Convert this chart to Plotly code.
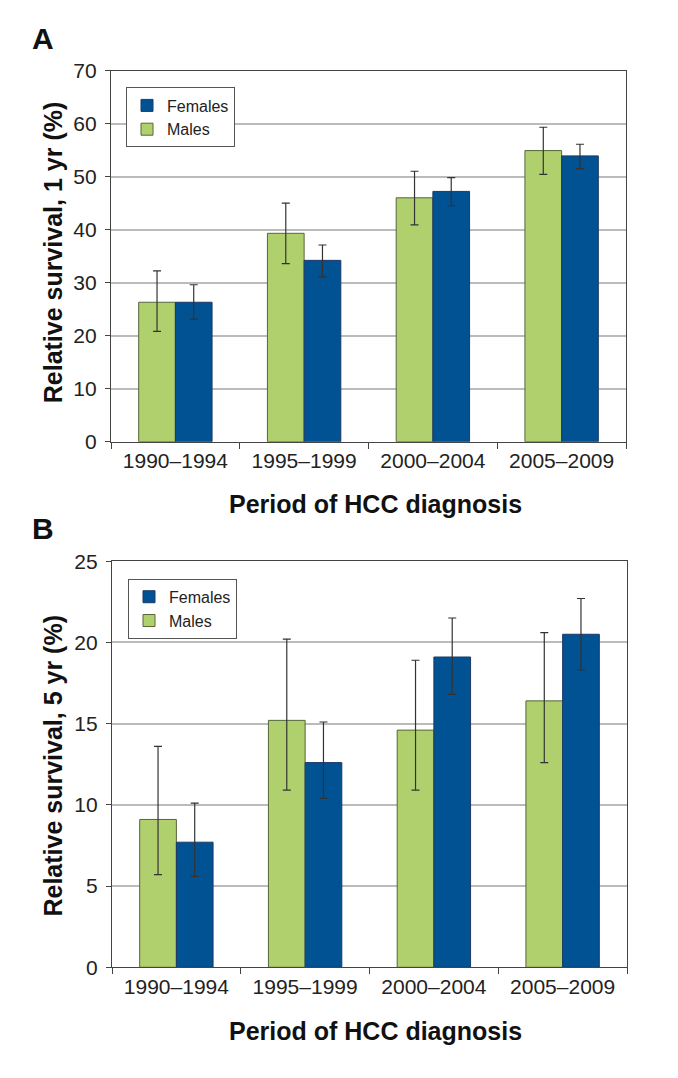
import plotly.graph_objects as go

periods = ["1990–1994", "1995–1999", "2000–2004", "2005–2009"]

# Panel A: 1-year relative survival (%)
a_males = [26.3, 39.3, 46.0, 54.9]
a_males_hi = [32.2, 45.0, 51.0, 59.3]
a_males_lo = [20.8, 33.6, 40.9, 50.4]
a_females = [26.3, 34.2, 47.2, 53.9]
a_females_hi = [29.6, 37.1, 49.8, 56.1]
a_females_lo = [23.1, 31.1, 44.5, 51.5]

# Panel B: 5-year relative survival (%)
b_males = [9.1, 15.2, 14.6, 16.4]
b_males_hi = [13.6, 20.2, 18.9, 20.6]
b_males_lo = [5.7, 10.9, 10.9, 12.6]
b_females = [7.7, 12.6, 19.1, 20.5]
b_females_hi = [10.1, 15.1, 21.5, 22.7]
b_females_lo = [5.6, 10.4, 16.8, 18.3]

GREEN = "#B0D06E"
BLUE = "#005293"
FONT = "Liberation Sans, Arial, sans-serif"
W, H = 678, 1078


def py(y):
    # target pixel row -> layout row (compensates observed vertical offset)
    return (y - 11.4) / 0.98


def err(vals, hi, lo):
    return dict(type="data", symmetric=False,
                array=[h - v for v, h in zip(vals, hi)],
                arrayminus=[v - l for v, l in zip(vals, lo)],
                color="#333333", thickness=1.2, width=4)


fig = go.Figure()

def add_pair(males, mhi, mlo, females, fhi, flo, xa, ya, leg):
    fig.add_trace(go.Bar(x=periods, y=males, name="Males", xaxis=xa, yaxis=ya,
                         marker=dict(color=GREEN, line=dict(color="#56663a", width=1)),
                         error_y=err(males, mhi, mlo), legend=leg))
    fig.add_trace(go.Bar(x=periods, y=females, name="Females", xaxis=xa, yaxis=ya,
                         marker=dict(color=BLUE, line=dict(color="#1d3a66", width=1)),
                         error_y=err(females, fhi, flo), legend=leg))

add_pair(a_males, a_males_hi, a_males_lo, a_females, a_females_hi, a_females_lo,
         "x", "y", "legend")
add_pair(b_males, b_males_hi, b_males_lo, b_females, b_females_hi, b_females_lo,
         "x2", "y2", "legend2")

xdom_a = [111 / W, 626 / W]
xdom_b = [112 / W, 627 / W]
ydom_a = [1 - py(441.7) / H, 1 - py(70) / H]
ydom_b = [1 - py(968) / H, 1 - py(561.3) / H]

xcommon = dict(showline=True, linecolor="#444444", linewidth=1.2, mirror=True,
               ticks="outside", tickson="boundaries", ticklen=6, tickcolor="#444444",
               showgrid=False, tickfont=dict(size=21, color="#222222", family=FONT),
               fixedrange=True)
ycommon = dict(showline=True, linecolor="#444444", linewidth=1.2, mirror=True,
               ticks="outside", ticklen=5, tickcolor="#444444",
               showgrid=True, gridcolor="#BBBBBB", gridwidth=1.5,
               tickfont=dict(size=21, color="#222222", family=FONT),
               ticklabelstandoff=4,
               zeroline=False, fixedrange=True)

legcommon = dict(bgcolor="white", bordercolor="#555555", borderwidth=1,
                 font=dict(size=16, color="#222222", family=FONT),
                 traceorder="reversed", xanchor="left", yanchor="top",
                 itemwidth=30, tracegroupgap=0)

fig.update_layout(
    width=W, height=H,
    margin=dict(l=0, r=0, t=0, b=0),
    paper_bgcolor="white", plot_bgcolor="white",
    barmode="group", bargap=0.43, bargroupgap=0,
    font=dict(family=FONT, color="#222222"),
    xaxis=dict(domain=xdom_a, anchor="y", **xcommon),
    yaxis=dict(domain=ydom_a, anchor="x", range=[0, 70], dtick=10, **ycommon),
    xaxis2=dict(domain=xdom_b, anchor="y2", **xcommon),
    yaxis2=dict(domain=ydom_b, anchor="x2", range=[0, 25], dtick=5, **ycommon),
    legend=dict(x=126 / W, y=1 - py(87) / H, **legcommon),
    legend2=dict(x=128 / W, y=1 - py(579) / H, **legcommon),
    showlegend=True,
)

ann = []
def txt(x, y, s, size, bold=True, angle=0):
    ann.append(dict(x=x / W, y=1 - py(y) / H, xref="paper", yref="paper",
                    text=f"<b>{s}</b>" if bold else s, showarrow=False,
                    textangle=angle, xanchor="center", yanchor="middle",
                    font=dict(size=size, color="#111111", family=FONT)))

txt(43, 38, "A", 30)
txt(43, 529, "B", 30)
txt(53, 252, "Relative survival, 1 yr (%)", 25, angle=-90)
txt(53, 766, "Relative survival, 5 yr (%)", 25, angle=-90)
txt(375, 504, "Period of HCC diagnosis", 25)
txt(375, 1032, "Period of HCC diagnosis", 25)
fig.update_layout(annotations=ann)

fig.write_html("out.html", config={"displayModeBar": False},
               post_script="document.body.style.margin='0';document.body.style.overflow='hidden';")
